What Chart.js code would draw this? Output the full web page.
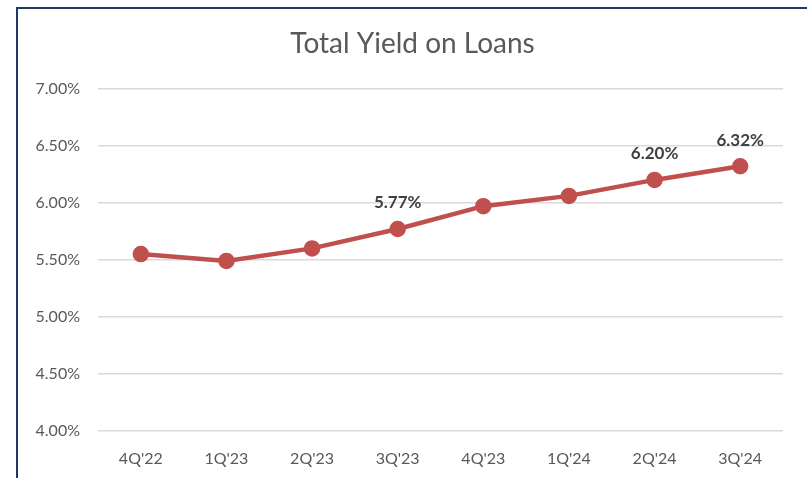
<!DOCTYPE html>
<html>
<head>
<meta charset="utf-8">
<script src="https://cdn.jsdelivr.net/npm/chart.js@4"></script>
<style>
  body { margin: 0; background: #fff; width: 807px; height: 478px; overflow: hidden; position: relative; }
  #frame { position: absolute; left: 16px; top: 7px; width: 800px; height: 480px;
           border-left: 2px solid #203864; border-top: 2px solid #203864; }
  #wrap { position: absolute; left: 18px; top: 9px; width: 789px; height: 469px; }
</style>
</head>
<body>
<div id="frame"></div>
<div id="wrap"><canvas id="myChart"></canvas></div>
<script>
const quarters = ["4Q'22", "1Q'23", "2Q'23", "3Q'23", "4Q'23", "1Q'24", "2Q'24", "3Q'24"];
const yieldValues = [5.55, 5.49, 5.60, 5.77, 5.97, 6.06, 6.20, 6.32];
const labelledPoints = [3, 6, 7];
const chartTitle = "Total Yield on Loans";

const fontFamily = "Lato, 'Open Sans', sans-serif";

// title centred on the whole frame + the few value labels above the points
const overlay = {
  id: "overlay",
  afterDatasetsDraw(chart) {
    let c = chart.ctx;
    let meta = chart.getDatasetMeta(0);
    let tb = chart.titleBlock;
    c.save();
    c.textAlign = "center";
    c.textBaseline = "middle";
    c.font = "28px " + fontFamily;
    c.fillStyle = "#595959";
    c.fillText(chartTitle, chart.width / 2, tb.top + 18 + 28 * 1.2 / 2);
    c.font = "bold 17px " + fontFamily;
    c.fillStyle = "#404040";
    for (const i of labelledPoints) {
      let pt = meta.data[i];
      c.fillText(yieldValues[i].toFixed(2) + "%", pt.x, pt.y - 26);
    }
    c.restore();
  },
};

let ctx = document.getElementById("myChart").getContext("2d");
let myChart = new Chart(ctx, {
  type: "line",
  data: {
    labels: quarters,
    datasets: [
      {
        label: chartTitle,
        data: yieldValues,
        borderColor: "#C0504D",
        backgroundColor: "#C0504D",
        borderWidth: 4.5,
        pointRadius: 6,
        pointHoverRadius: 6,
        fill: false,
        tension: 0,
      },
    ],
  },
  options: {
    responsive: true,
    maintainAspectRatio: false,
    animation: false,
    layout: { padding: { left: 0, right: 24, top: 0, bottom: 0 } },
    plugins: {
      legend: { display: false },
      tooltip: { enabled: false },
      // kept only for spacing, the text itself is drawn by the overlay plugin
      title: {
        display: true,
        text: chartTitle,
        color: "rgba(0,0,0,0)",
        font: { family: fontFamily, size: 28, weight: "normal" },
        padding: { top: 18, bottom: 28 },
      },
    },
    scales: {
      x: {
        offset: true,
        grid: { display: false },
        border: { display: false },
        ticks: { color: "#595959", font: { family: fontFamily, size: 16 }, padding: 10 },
        afterFit: (s) => { s.height = 47; },
      },
      y: {
        min: 4,
        max: 7,
        grid: { color: "#D9D9D9", lineWidth: 1.5, drawTicks: false },
        border: { display: false },
        ticks: {
          stepSize: 0.5,
          color: "#595959",
          font: { family: fontFamily, size: 16 },
          padding: 18,
          callback: (v) => v.toFixed(2) + "%",
        },
        afterFit: (s) => { s.width = 80; },
      },
    },
  },
  plugins: [overlay],
});
</script>
</body>
</html>
